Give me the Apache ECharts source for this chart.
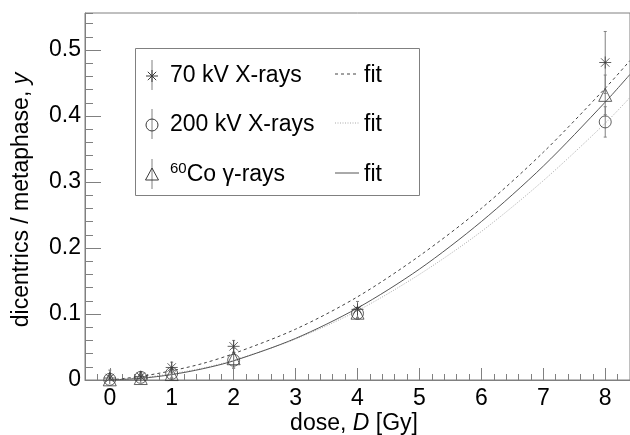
<!DOCTYPE html>
<html>
<head>
<meta charset="utf-8">
<script src="https://cdn.jsdelivr.net/npm/echarts@6/dist/echarts.min.js"></script>
<style>
  html, body { margin: 0; padding: 0; background: #fff; }
  #chart { width: 630px; height: 435px; }
</style>
</head>
<body>
<div id="chart"></div>
<script>
// 数据点：剂量 (Gy)
var doses = [0, 0.5, 1, 2, 4, 8];
// 70 kV X-rays
var y70 = [0.003, 0.005, 0.019, 0.051, 0.107, 0.481];
var e70 = [0.012, 0.007, 0.008, 0.009, 0.012, 0.047];
// 200 kV X-rays
var y200 = [0.001, 0.004, 0.010, 0.030, 0.101, 0.391];
var e200 = [0.006, 0.004, 0.006, 0.012, 0.007, 0.023];
// 60Co gamma-rays
var yCo = [0.001, 0.003, 0.009, 0.033, 0.102, 0.432];
var eCo = [0.005, 0.004, 0.007, 0.015, 0.008, 0.030];

// 拟合曲线
var fitDoses = [0, 0.5, 1, 1.5, 2, 3, 4, 5, 6, 7, 8, 8.4];
var fit70 = [0, 0.0055, 0.014, 0.025, 0.040, 0.077, 0.126, 0.188, 0.260, 0.345, 0.442, 0.484];
var fit200 = [0, 0.0034, 0.0095, 0.018, 0.030, 0.062, 0.105, 0.160, 0.225, 0.302, 0.389, 0.428];
var fitCo = [0, 0.0025, 0.0082, 0.017, 0.029, 0.063, 0.109, 0.168, 0.240, 0.324, 0.421, 0.463];

// 刻度
var xMajorTicks = [0, 1, 2, 3, 4, 5, 6, 7, 8];
var yMajorTicks = [0, 0.1, 0.2, 0.3, 0.4, 0.5];

var FONT = 'Liberation Sans';
var FS = 23;
var GRAY = '#808080';
var MARK = '#3a3a3a';

function pairs(xs, ys) {
  return xs.map(function (x, i) { return [x, ys[i]]; });
}
function errRows(xs, ys, es) {
  return xs.map(function (x, i) { return [x, ys[i], es[i]]; });
}

// 误差棒
function errorBar(color) {
  return function (params, api) {
    var x = api.value(0), y = api.value(1), e = api.value(2);
    var top = api.coord([x, y + e]);
    var bot = api.coord([x, y - e]);
    var cap = 1.5;
    return {
      type: 'group',
      children: [
        { type: 'line', shape: { x1: top[0], y1: top[1], x2: bot[0], y2: bot[1] }, style: { stroke: color, lineWidth: 1 } },
        { type: 'line', shape: { x1: top[0] - cap, y1: top[1], x2: top[0] + cap, y2: top[1] }, style: { stroke: color, lineWidth: 1 } },
        { type: 'line', shape: { x1: bot[0] - cap, y1: bot[1], x2: bot[0] + cap, y2: bot[1] }, style: { stroke: color, lineWidth: 1 } }
      ]
    };
  };
}

var starPath = 'path://M0,5L10,5M5,0L5,10M1.5,1.5L8.5,8.5M8.5,1.5L1.5,8.5';

var myChart = echarts.init(document.getElementById('chart'));

// 图例里的一行
function legendRow(cy, markers, label, lineDash, lineColor) {
  var els = [];
  els.push({ type: 'line', shape: { x1: 152, y1: cy - 16, x2: 152, y2: cy + 14 }, style: { stroke: GRAY, lineWidth: 1 } });
  els = els.concat(markers);
  els.push({
    type: 'text', x: 170, y: cy,
    style: { text: label.text, rich: label.rich, font: FS + 'px ' + FONT, fill: '#000', verticalAlign: 'middle' }
  });
  els.push({ type: 'line', shape: { x1: 335, y1: cy - 2, x2: 359, y2: cy - 2 }, style: { stroke: lineColor, lineWidth: 1, lineDash: lineDash } });
  els.push({ type: 'text', x: 364, y: cy, style: { text: 'fit', font: FS + 'px ' + FONT, fill: '#000', verticalAlign: 'middle' } });
  return els;
}

var graphics = [
  { type: 'rect', shape: { x: 135.5, y: 48.5, width: 284, height: 147 }, style: { fill: '#fff', stroke: GRAY, lineWidth: 1 }, z: 10 }
];
graphics = graphics.concat(legendRow(76, [
  { type: 'line', shape: { x1: 146, y1: 76, x2: 158, y2: 76 }, style: { stroke: MARK, lineWidth: 1 } },
  { type: 'line', shape: { x1: 152, y1: 70, x2: 152, y2: 82 }, style: { stroke: MARK, lineWidth: 1 } },
  { type: 'line', shape: { x1: 147.8, y1: 71.8, x2: 156.2, y2: 80.2 }, style: { stroke: MARK, lineWidth: 1 } },
  { type: 'line', shape: { x1: 156.2, y1: 71.8, x2: 147.8, y2: 80.2 }, style: { stroke: MARK, lineWidth: 1 } }
], { text: '70 kV X-rays' }, [3, 3], '#444'));
graphics = graphics.concat(legendRow(125, [
  { type: 'circle', shape: { cx: 152, cy: 125, r: 6 }, style: { fill: 'none', stroke: MARK, lineWidth: 1 } }
], { text: '200 kV X-rays' }, [1, 1.5], '#aaa'));
graphics = graphics.concat(legendRow(175, [
  { type: 'polygon', shape: { points: [[152, 168], [158.5, 180], [145.5, 180]] }, style: { fill: 'none', stroke: MARK, lineWidth: 1 } }
], { text: '{sup|60}Co γ-rays', rich: { sup: { fontSize: 15, fontFamily: FONT, verticalAlign: 'top', padding: [0, 0, 12, 0] } } }, null, '#555'));
graphics.forEach(function (g) { if (g.z == null) g.z = 11; });

// 坐标轴标题
graphics.push({
  type: 'text', x: 354, y: 424, z: 11,
  style: {
    text: 'dose, {i|D} [Gy]', font: FS + 'px ' + FONT, fill: '#000', align: 'center', verticalAlign: 'middle',
    rich: { i: { fontStyle: 'italic', fontSize: FS, fontFamily: FONT } }
  }
});
graphics.push({
  type: 'text', x: 22, y: 200, rotation: Math.PI / 2, z: 11,
  style: {
    text: 'dicentrics / metaphase, {i|y}', font: FS + 'px ' + FONT, fill: '#000', align: 'center', verticalAlign: 'middle',
    rich: { i: { fontStyle: 'italic', fontSize: FS, fontFamily: FONT } }
  }
});

var option = {
  animation: false,
  backgroundColor: '#fff',
  textStyle: { fontFamily: FONT },
  grid: {
    left: 85, top: 13, right: -2, bottom: 55,
    show: true, borderColor: GRAY, borderWidth: 1, backgroundColor: 'transparent'
  },
  xAxis: [
    {
      // 小刻度
      type: 'value', min: -0.4, max: 8.4, interval: 0.2,
      axisLine: { show: false, onZero: false },
      axisTick: { inside: true, length: 6, lineStyle: { color: GRAY } },
      axisLabel: { show: false },
      splitLine: { show: false }
    },
    {
      // 大刻度
      type: 'value', min: -0.4, max: 8.4, position: 'bottom',
      axisLine: { show: true, onZero: false, lineStyle: { color: GRAY } },
      axisTick: { inside: true, length: 12, customValues: xMajorTicks, lineStyle: { color: GRAY } },
      axisLabel: { customValues: xMajorTicks, fontSize: FS, color: '#000', margin: 7, fontFamily: FONT },
      splitLine: { show: false }
    }
  ],
  yAxis: [
    {
      type: 'value', min: 0, max: 0.556, interval: 0.02,
      axisLine: { show: false, onZero: false },
      axisTick: { inside: true, length: 8, lineStyle: { color: GRAY } },
      axisLabel: { show: false },
      splitLine: { show: false }
    },
    {
      type: 'value', min: 0, max: 0.556, position: 'left',
      axisLine: { show: true, onZero: false, lineStyle: { color: GRAY } },
      axisTick: { inside: true, length: 16, customValues: yMajorTicks, lineStyle: { color: GRAY } },
      axisLabel: {
        customValues: yMajorTicks, fontSize: FS, color: '#000', margin: 4, fontFamily: FONT,
        formatter: function (v) { return v === 0 ? '0' : v.toFixed(1); }
      },
      splitLine: { show: false }
    }
  ],
  series: [
    // 拟合曲线
    {
      name: 'fit 70', type: 'line', data: pairs(fitDoses, fit70), smooth: 0.3, showSymbol: false,
      lineStyle: { color: '#444', width: 1, type: [3, 3] }, z: 2
    },
    {
      name: 'fit 200', type: 'line', data: pairs(fitDoses, fit200), smooth: 0.3, showSymbol: false,
      lineStyle: { color: '#aaa', width: 1, type: [1, 1.5] }, z: 2
    },
    {
      name: 'fit Co', type: 'line', data: pairs(fitDoses, fitCo), smooth: 0.3, showSymbol: false,
      lineStyle: { color: '#555', width: 1 }, z: 2
    },
    // 误差棒
    { type: 'custom', data: errRows(doses, y70, e70), renderItem: errorBar(GRAY), encode: { x: 0, y: 1 }, clip: true, z: 3 },
    { type: 'custom', data: errRows(doses, y200, e200), renderItem: errorBar(GRAY), encode: { x: 0, y: 1 }, clip: true, z: 3 },
    { type: 'custom', data: errRows(doses, yCo, eCo), renderItem: errorBar(GRAY), encode: { x: 0, y: 1 }, clip: true, z: 3 },
    // 数据点
    {
      name: '70 kV X-rays', type: 'scatter', data: pairs(doses, y70), symbol: starPath, symbolSize: 12,
      itemStyle: { color: 'rgba(0,0,0,0)', borderColor: MARK, borderWidth: 1 }, z: 4
    },
    {
      name: '200 kV X-rays', type: 'scatter', data: pairs(doses, y200), symbol: 'circle', symbolSize: 12,
      itemStyle: { color: 'rgba(0,0,0,0)', borderColor: MARK, borderWidth: 1 }, z: 4
    },
    {
      name: '60Co gamma-rays', type: 'scatter', data: pairs(doses, yCo), symbol: 'triangle', symbolSize: 13,
      itemStyle: { color: 'rgba(0,0,0,0)', borderColor: MARK, borderWidth: 1 }, z: 4
    }
  ],
  graphic: graphics
};
myChart.setOption(option);
</script>
</body>
</html>
